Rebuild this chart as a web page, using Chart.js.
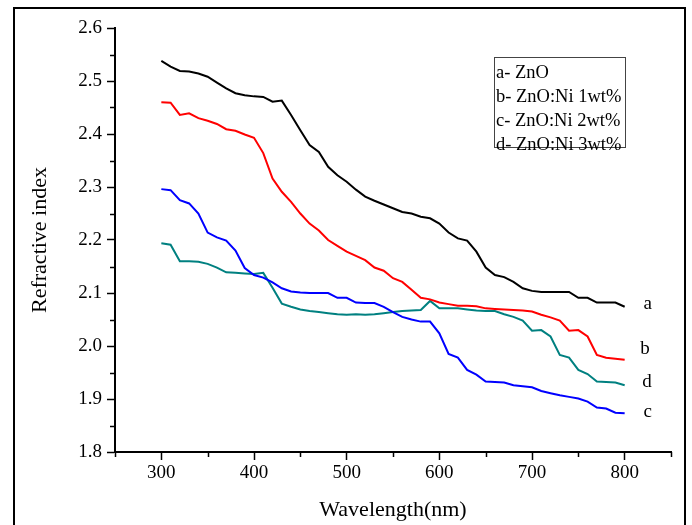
<!DOCTYPE html>
<html><head><meta charset="utf-8">
<script src="https://cdn.jsdelivr.net/npm/chart.js@4/dist/chart.umd.min.js"></script>
<style>
html,body{margin:0;padding:0;background:#fff;overflow:hidden}
#wrap{position:relative;width:692px;height:525px;background:#fff}
#c{position:absolute;left:0;top:0}
#frame{position:absolute;left:13px;top:7px;width:673px;height:600px;border:2.5px solid #000;box-sizing:border-box;pointer-events:none}
#legend{position:absolute;left:494px;top:57px;width:132px;height:91px;border:1px solid #444;box-sizing:border-box;
  font-family:"Liberation Serif","Times New Roman",serif;font-size:18.5px;line-height:24px;padding:2px 0 0 1px;color:#000;white-space:nowrap;background:#fff}
</style></head>
<body>
<div id="wrap">
<canvas id="c" width="692" height="525"></canvas>
<div id="frame"></div>
<div id="legend"></div>
</div>
<script>
const wavelengths = [300,310,320,330,340,350,360,370,380,390,400,410,420,430,440,450,460,470,480,490,500,510,520,530,540,550,560,570,580,590,600,610,620,630,640,650,660,670,680,690,700,710,720,730,740,750,760,770,780,790,800];
const seriesA = [2.538,2.527,2.519,2.518,2.514,2.508,2.497,2.486,2.477,2.473,2.471,2.470,2.461,2.463,2.436,2.407,2.379,2.366,2.338,2.322,2.310,2.295,2.282,2.274,2.267,2.260,2.253,2.250,2.244,2.241,2.231,2.214,2.203,2.199,2.178,2.148,2.134,2.130,2.121,2.109,2.104,2.102,2.102,2.102,2.102,2.091,2.091,2.082,2.082,2.082,2.074];
const seriesB = [2.460,2.459,2.436,2.439,2.430,2.425,2.419,2.409,2.406,2.399,2.393,2.364,2.316,2.291,2.272,2.250,2.231,2.218,2.200,2.189,2.178,2.170,2.162,2.148,2.142,2.128,2.121,2.106,2.091,2.088,2.082,2.079,2.076,2.076,2.075,2.071,2.070,2.069,2.068,2.067,2.065,2.059,2.054,2.048,2.029,2.030,2.018,1.983,1.978,1.976,1.974];
const seriesC = [2.296,2.294,2.275,2.269,2.250,2.214,2.205,2.199,2.180,2.147,2.134,2.129,2.120,2.109,2.103,2.101,2.100,2.100,2.100,2.091,2.091,2.082,2.081,2.081,2.074,2.064,2.055,2.050,2.046,2.046,2.024,1.985,1.978,1.955,1.946,1.933,1.932,1.931,1.926,1.924,1.922,1.915,1.911,1.907,1.904,1.901,1.895,1.884,1.882,1.874,1.873];
const seriesD = [2.194,2.191,2.160,2.160,2.159,2.155,2.148,2.139,2.138,2.137,2.136,2.138,2.110,2.080,2.074,2.069,2.066,2.064,2.062,2.060,2.059,2.060,2.059,2.060,2.062,2.064,2.066,2.067,2.068,2.085,2.071,2.071,2.071,2.069,2.067,2.066,2.066,2.060,2.055,2.048,2.029,2.030,2.018,1.983,1.978,1.955,1.947,1.933,1.932,1.931,1.926];
const yTickLabels = ['1.8','1.9','2.0','2.1','2.2','2.3','2.4','2.5','2.6'];
const xTickLabels = ['300','400','500','600','700','800'];
const legendLabels = ['a- ZnO','b- ZnO:Ni 1wt%','c- ZnO:Ni 2wt%','d- ZnO:Ni 3wt%'];
const curveTags = ['a','b','c','d'];
const tagWavelength = [825,822,825,824];
const tagIndex = [2.079,1.994,1.875,1.932];
const seriesColors = ['#000000','#ff0000','#0000ff','#008080'];

const FONT = '"Liberation Serif","Times New Roman",serif';
document.getElementById('legend').innerHTML = legendLabels.map(t=>'<div>'+t+'</div>').join('');

const allSeries = [seriesA, seriesB, seriesC, seriesD];
const datasets = allSeries.map((s,k)=>({
  label: legendLabels[k],
  data: wavelengths.map((w,i)=>({x:w,y:s[i]})),
  borderColor: seriesColors[k],
  borderWidth: 2,
  pointRadius: 0,
  tension: 0,
  fill: false
}));

const isMajorX = v => Math.round(v)%100===0 && xTickLabels.includes(String(Math.round(v)));
const isMajorY = v => Math.round(v*100)%10===0 && yTickLabels.includes((Math.round(v*10)/10).toFixed(1));

const extra = {
  id:'extra',
  afterDraw(chart){
    const {ctx, scales:{x,y}} = chart;
    ctx.save();
    ctx.strokeStyle='#000'; ctx.lineWidth=1.5;
    x.ticks.forEach(t=>{
      if(!isMajorX(t.value)){
        const px = Math.round(x.getPixelForValue(t.value))+0.5;
        ctx.beginPath(); ctx.moveTo(px, x.top); ctx.lineTo(px, x.top+5); ctx.stroke();
      }
    });
    y.ticks.forEach(t=>{
      if(!isMajorY(t.value)){
        const py = Math.round(y.getPixelForValue(t.value))+0.5;
        ctx.beginPath(); ctx.moveTo(y.right-5, py); ctx.lineTo(y.right, py); ctx.stroke();
      }
    });
    ctx.fillStyle='#000'; ctx.font='19px '+FONT; ctx.textAlign='center'; ctx.textBaseline='middle';
    curveTags.forEach((t,i)=>{
      ctx.fillText(t, x.getPixelForValue(tagWavelength[i]), y.getPixelForValue(tagIndex[i]));
    });
    ctx.restore();
  }
};

new Chart(document.getElementById('c'), {
  type:'line',
  data:{datasets},
  plugins:[extra],
  options:{
    responsive:false, animation:false, devicePixelRatio:1,
    layout:{padding:{left:0,top:28,right:21,bottom:0}},
    plugins:{legend:{display:false}, tooltip:{enabled:false}},
    scales:{
      x:{
        type:'linear', min:250, max:850,
        afterFit: s=>{ s.height = 73; },
        ticks:{stepSize:50, autoSkip:false, maxRotation:0, padding:2, color:'#000',
          font:{family:FONT,size:19},
          callback: v => isMajorX(v) ? String(Math.round(v)) : ''},
        grid:{display:true, drawOnChartArea:false, drawTicks:true, tickLength:8, tickWidth:1.5,
          tickColor: c => (c.tick && isMajorX(c.tick.value)) ? '#000' : 'rgba(0,0,0,0)'},
        border:{display:true, color:'#000', width:2},
        title:{display:true, text:'Wavelength(nm)', color:'#000', font:{family:FONT,size:22}, padding:{top:0,bottom:2}}
      },
      y:{
        type:'linear', min:1.8, max:2.6,
        afterFit: s=>{ s.width = 115; },
        ticks:{stepSize:0.05, autoSkip:false, padding:5, color:'#000',
          font:{family:FONT,size:19},
          callback: v => isMajorY(v) ? (Math.round(v*10)/10).toFixed(1) : ''},
        grid:{display:true, drawOnChartArea:false, drawTicks:true, tickLength:8, tickWidth:1.5,
          tickColor: c => (c.tick && isMajorY(c.tick.value)) ? '#000' : 'rgba(0,0,0,0)'},
        border:{display:true, color:'#000', width:2},
        title:{display:true, text:'Refractive index', color:'#000', font:{family:FONT,size:22}, padding:{top:27,bottom:0}}
      }
    }
  }
});
</script>
</body></html>
